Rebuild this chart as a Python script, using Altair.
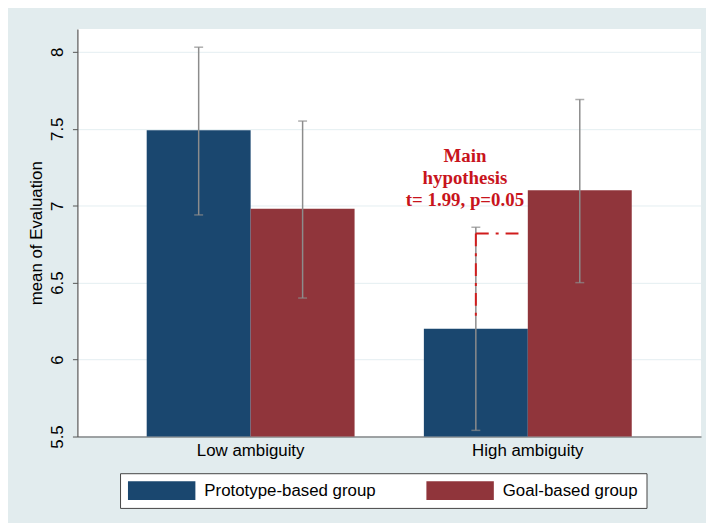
import altair as alt
import pandas as pd

ambiguity = ["Low ambiguity", "High ambiguity"]
groups = ["Prototype-based group", "Goal-based group"]
colors = ["#1a476f", "#90353b"]

proto_mean = [7.49, 6.20]
proto_lo = [6.94, 5.54]
proto_hi = [8.03, 6.86]
goal_mean = [6.98, 7.10]
goal_lo = [6.40, 6.50]
goal_hi = [7.55, 7.69]

y_ticks = [5.5, 6, 6.5, 7, 7.5, 8]

ann_text = "Main\nhypothesis\nt= 1.99, p=0.05"
ann_lo = 6.27
ann_hi = 6.82
ann_text_y = 7.32

rows = []
for i, a in enumerate(ambiguity):
    rows.append({"ambiguity": a, "group": groups[0], "mean": proto_mean[i], "lo": proto_lo[i], "hi": proto_hi[i]})
    rows.append({"ambiguity": a, "group": groups[1], "mean": goal_mean[i], "lo": goal_lo[i], "hi": goal_hi[i]})
df = pd.DataFrame(rows)
ann = pd.DataFrame([{"ambiguity": "High ambiguity", "lo": ann_lo, "hi": ann_hi, "ty": ann_text_y, "txt": ann_text}])

FONT = "Liberation Sans"
AXC = "#555555"

xscale = alt.Scale(domain=ambiguity, paddingInner=0.25, paddingOuter=0.25)
x = alt.X("ambiguity:N", scale=xscale,
          axis=alt.Axis(title=None, labelAngle=0, ticks=False, labelFontSize=17,
                        labelPadding=6, labelFont=FONT, labelColor="black",
                        domainColor=AXC, domainWidth=1.2, grid=False))
xo = alt.XOffset("group:N", scale=alt.Scale(domain=groups, paddingInner=0, paddingOuter=0))
yscale = alt.Scale(domain=[5.5, 8.148], nice=False, zero=False)
yaxis = alt.Axis(values=y_ticks, format="~g", labelAngle=-90, labelAlign="center",
                 labelBaseline="bottom", labelFontSize=17, labelFont=FONT,
                 labelColor="black", labelPadding=6, tickSize=5, tickColor=AXC,
                 domainColor=AXC, domainWidth=1.2, grid=True, gridColor="#e4eef1",
                 gridWidth=1, title="mean of Evaluation", titleFont=FONT,
                 titleFontSize=17, titleFontWeight="normal", titleColor="black",
                 titlePadding=3)

legend = alt.Legend(title=None, orient="none", legendX=43, legendY=448,
                    direction="horizontal", fillColor="white", strokeColor="#444444",
                    padding=8, symbolType="M-1,-1L6.158,-1L6.158,1L-1,1Z",
                    symbolSize=361, symbolStrokeWidth=0, symbolOpacity=1,
                    labelOffset=58, labelFontSize=17, labelFont=FONT,
                    labelColor="black", columnPadding=51, labelLimit=400)

base = alt.Chart(df)
bars = base.mark_bar(opacity=1, clip=True).encode(
    x=x, xOffset=xo,
    y=alt.Y("mean:Q", scale=yscale, axis=yaxis),
    color=alt.Color("group:N", scale=alt.Scale(domain=groups, range=colors), legend=legend),
)
ERR = "#8c8c8c"
rules = base.mark_rule(color=ERR, strokeWidth=1.5).encode(
    x=alt.X("ambiguity:N"), xOffset="group:N", y="lo:Q", y2="hi:Q")
cap_lo = base.mark_tick(color=ERR, thickness=1.5, size=9).encode(
    x=alt.X("ambiguity:N"), xOffset="group:N", y="lo:Q")
cap_hi = base.mark_tick(color=ERR, thickness=1.5, size=9).encode(
    x=alt.X("ambiguity:N"), xOffset="group:N", y="hi:Q")

RED = "#d01c1c"
dash = [13, 7, 3, 7]
ab = alt.Chart(ann)
vline = ab.mark_rule(color=RED, strokeWidth=2, strokeDash=dash).encode(
    x=alt.X("ambiguity:N", bandPosition=0.25), y="hi:Q", y2="lo:Q")
hline = ab.mark_rule(color=RED, strokeWidth=2, strokeDash=dash).encode(
    x=alt.X("ambiguity:N", bandPosition=0.25),
    x2=alt.X2("ambiguity", bandPosition=0.48), y="hi:Q")
text = ab.mark_text(color="#c8141c", font="Liberation Serif", fontSize=19,
                    fontWeight="bold", lineBreak="\n", lineHeight=22,
                    align="center", baseline="middle", dx=-11).encode(
    x=alt.X("ambiguity:N", bandPosition=0.25), y="ty:Q", text="txt:N")

chart = alt.layer(bars, rules, cap_lo, cap_hi, vline, hline, text).properties(
    width=629, height=411,
    autosize=alt.AutoSizeParams(type="none"),
    padding={"left": 70, "top": 19, "right": 5, "bottom": 85},
    background="#e2ecee",
).configure_view(fill="white", stroke=None)

chart.save("out.html", embed_options={"renderer": "svg", "actions": False})
